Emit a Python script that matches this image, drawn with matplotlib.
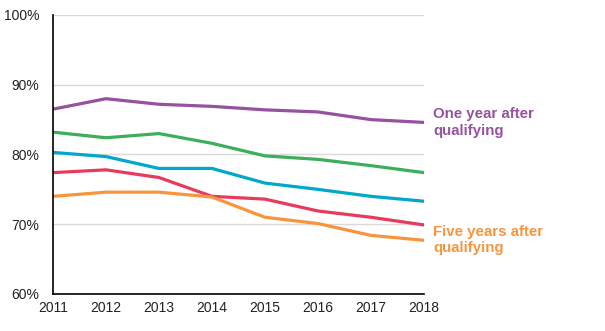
import matplotlib.pyplot as plt

years = [2011, 2012, 2013, 2014, 2015, 2016, 2017, 2018]

one_year = [86.5, 88.0, 87.2, 86.9, 86.4, 86.1, 85.0, 84.6]
two_years = [83.2, 82.4, 83.0, 81.6, 79.8, 79.3, 78.4, 77.4]
three_years = [80.3, 79.7, 78.0, 78.0, 75.9, 75.0, 74.0, 73.3]
four_years = [77.4, 77.8, 76.7, 74.0, 73.6, 71.9, 71.0, 69.9]
five_years = [74.0, 74.6, 74.6, 73.9, 71.0, 70.1, 68.4, 67.7]

purple = '#96519f'
green = '#3dae5a'
blue = '#00a8cc'
red = '#e83a5c'
orange = '#f7943c'

plt.rcParams['font.family'] = ['Liberation Sans', 'DejaVu Sans']

fig = plt.figure(figsize=(6.05, 3.31), dpi=100)
ax = fig.add_axes([0.0876, 0.1118, 0.6132, 0.8429])

series = [
    (one_year, purple),
    (two_years, green),
    (three_years, blue),
    (four_years, red),
    (five_years, orange),
]
for values, color in series:
    ax.plot(years, values, color=color, linewidth=2.3, solid_joinstyle='round', zorder=3)

ax.set_xlim(2011, 2018)
ax.set_ylim(60, 100)
ax.set_xticks(years)
ax.set_yticks([60, 70, 80, 90, 100])
ax.set_yticklabels([f'{v}%' for v in [60, 70, 80, 90, 100]])
ax.tick_params(axis='both', length=0, labelsize=10, colors='#222222')
ax.tick_params(axis='y', pad=10)
ax.tick_params(axis='x', pad=5)

ax.grid(axis='y', color='#d9d9d9', linewidth=1)
ax.set_axisbelow(True)
for side in ['top', 'right']:
    ax.spines[side].set_visible(False)
for side in ['left', 'bottom']:
    ax.spines[side].set_color('black')
    ax.spines[side].set_linewidth(1.2)
    ax.spines[side].set_zorder(4)

# end-of-line labels for the first and last series
ax.text(1.025, (one_year[-1] - 60) / 40 + 0.0, 'One year after\nqualifying',
        transform=ax.transAxes, color=purple, fontsize=10.8, fontweight='bold',
        va='center', ha='left', linespacing=1.2)
ax.text(1.025, (five_years[-1] - 60) / 40 + 0.0, 'Five years after\nqualifying',
        transform=ax.transAxes, color=orange, fontsize=10.8, fontweight='bold',
        va='center', ha='left', linespacing=1.2)

fig.savefig('out.png', dpi=100)
